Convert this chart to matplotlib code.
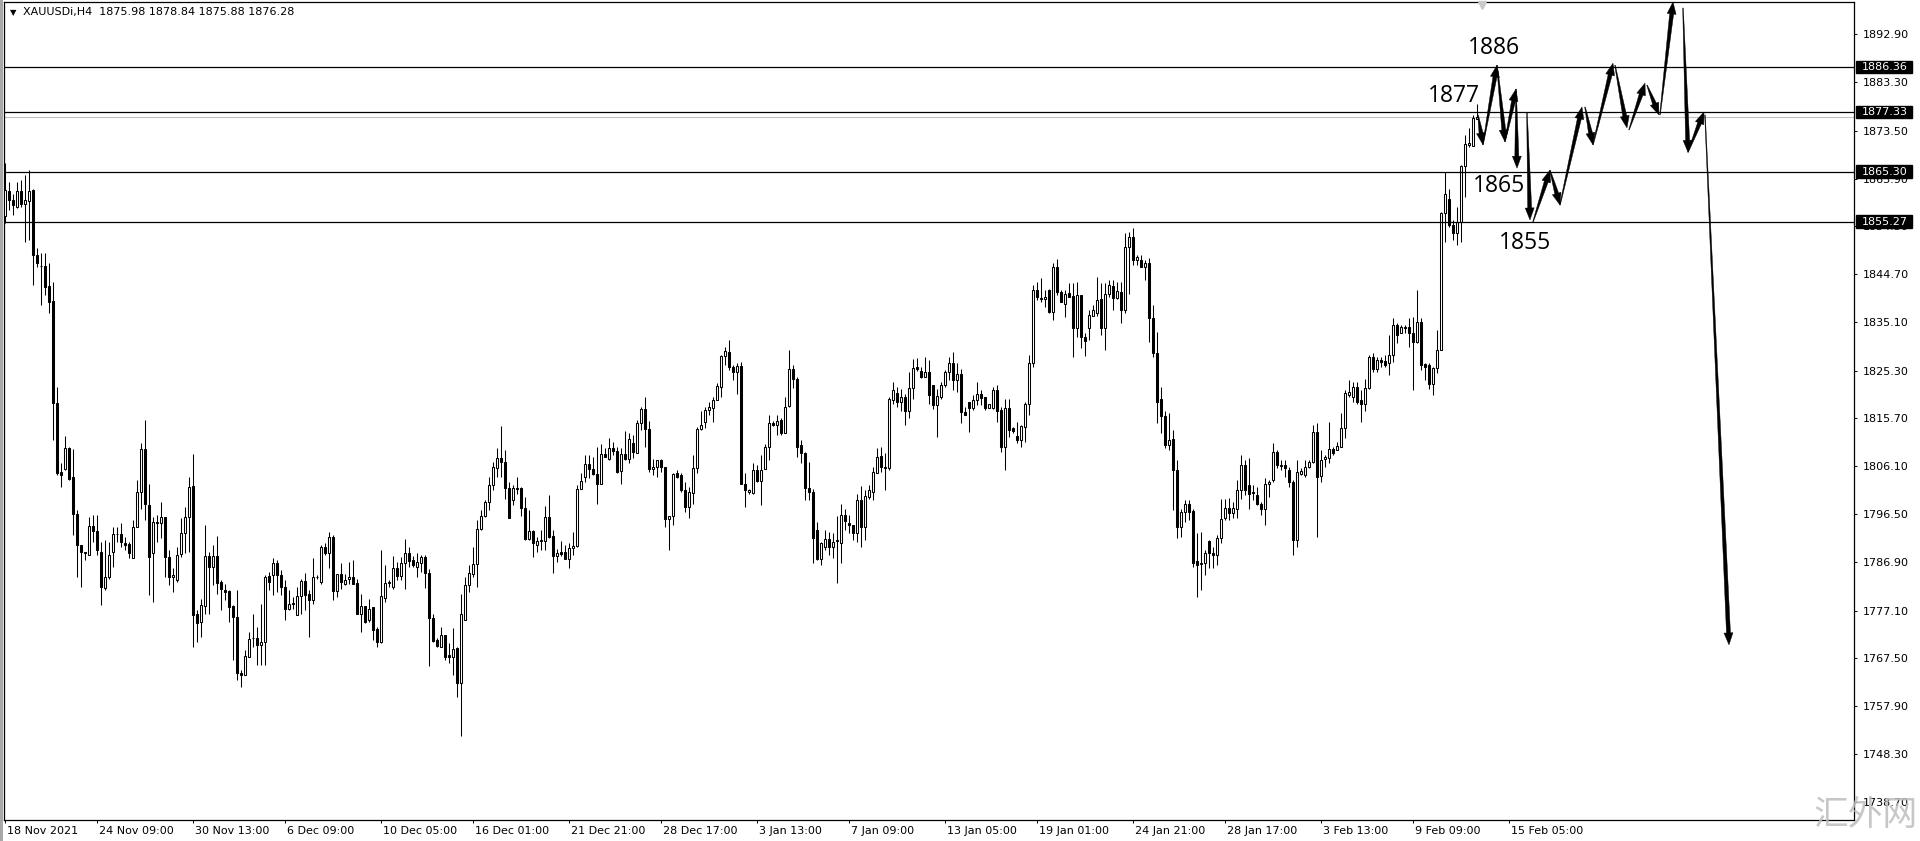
import numpy as np
import matplotlib
matplotlib.use("Agg")
import matplotlib.pyplot as plt
import matplotlib.transforms as mtransforms
from matplotlib.patches import Polygon, Rectangle

plt.rcParams['font.family'] = ['DejaVu Sans']

# H4 bars, XAUUSDi, 18 Nov 2021 .. 15 Feb 2022
opens = [
    1856.3, 1861.4, 1859.7, 1858.1, 1861.5, 1858.8, 1859.5, 1861.6, 1848.5, 1846.4,
    1846.3, 1842.3, 1839.3, 1818.9, 1805.0, 1805.6, 1809.8, 1803.9, 1796.5, 1790.3,
    1788.8, 1788.2, 1794.1, 1793.0, 1788.9, 1781.6, 1783.9, 1788.9, 1792.5, 1792.5,
    1790.7, 1790.5, 1787.6, 1793.9, 1801.0, 1809.6, 1798.3, 1788.6, 1794.9, 1794.6,
    1795.9, 1787.9, 1783.8, 1783.2, 1788.4, 1792.7, 1795.8, 1802.1, 1776.4, 1774.8,
    1778.0, 1788.0, 1785.9, 1788.0, 1782.9, 1781.2, 1781.1, 1778.0, 1775.8, 1764.6,
    1764.1, 1767.8, 1771.5, 1771.5, 1770.2, 1770.8, 1784.0, 1784.2, 1786.7, 1784.2,
    1781.9, 1777.5, 1778.6, 1776.2, 1780.0, 1783.1, 1780.5, 1779.2, 1783.8, 1782.9,
    1789.9, 1788.6, 1791.9, 1781.1, 1784.4, 1782.4, 1783.5, 1783.8, 1782.7, 1776.5,
    1778.0, 1775.2, 1777.9, 1773.3, 1770.8, 1779.7, 1782.6, 1781.9, 1785.6, 1784.0,
    1786.6, 1788.7, 1787.2, 1785.8, 1786.7, 1787.9, 1784.7, 1775.5, 1771.2, 1769.8,
    1772.2, 1768.1, 1767.8, 1769.5, 1762.5, 1775.2, 1782.2, 1784.5, 1786.4, 1793.4,
    1796.1, 1798.9, 1802.3, 1805.7, 1807.7, 1807.0, 1801.8, 1799.4, 1801.8, 1801.8,
    1797.8, 1791.4, 1793.1, 1790.3, 1791.1, 1791.1, 1795.8, 1792.1, 1788.0, 1788.9,
    1788.9, 1787.4, 1789.6, 1790.1, 1801.6, 1804.0, 1806.5, 1805.5, 1804.5, 1802.6,
    1808.5, 1807.5, 1809.7, 1809.2, 1805.2, 1808.5, 1807.5, 1810.7, 1808.8, 1814.7,
    1817.7, 1813.5, 1805.5, 1805.9, 1807.3, 1806.0, 1795.4, 1796.0, 1804.7, 1804.3,
    1801.4, 1798.0, 1800.8, 1805.7, 1813.5, 1815.0, 1817.4, 1817.9, 1819.4, 1822.1,
    1828.2, 1829.1, 1826.1, 1825.1, 1826.2, 1802.6, 1801.0, 1800.8, 1805.3, 1803.2,
    1805.5, 1809.9, 1814.8, 1814.3, 1815.4, 1812.8, 1818.2, 1825.6, 1823.6, 1810.4,
    1808.8, 1801.8, 1801.0, 1793.3, 1787.4, 1789.9, 1791.4, 1789.8, 1791.0, 1790.6,
    1796.3, 1794.6, 1794.3, 1792.7, 1799.4, 1793.8, 1800.0, 1801.0, 1804.8, 1808.1,
    1806.0, 1805.7, 1819.5, 1820.9, 1819.1, 1820.1, 1817.1, 1821.8, 1826.0, 1825.3,
    1824.1, 1825.1, 1822.4, 1818.4, 1820.1, 1822.4, 1825.1, 1826.8, 1823.4, 1824.6,
    1817.0, 1819.1, 1817.9, 1819.4, 1820.7, 1820.1, 1817.9, 1817.9, 1821.5, 1817.4,
    1809.9, 1817.9, 1813.7, 1812.2, 1811.4, 1813.9, 1818.6, 1826.9, 1841.6, 1840.0,
    1839.8, 1841.5, 1837.0, 1846.1, 1841.2, 1838.8, 1841.0, 1840.3, 1833.8, 1840.5,
    1832.1, 1833.8, 1836.3, 1836.8, 1839.8, 1833.8, 1840.8, 1842.3, 1840.0, 1841.2,
    1837.5, 1850.2, 1852.1, 1847.5, 1847.5, 1846.2, 1846.9, 1835.8, 1828.8, 1819.7,
    1816.2, 1810.4, 1811.5, 1805.3, 1793.9, 1796.9, 1798.6, 1797.1, 1787.0, 1786.4,
    1786.6, 1791.1, 1788.6, 1788.3, 1791.6, 1795.6, 1797.8, 1796.6, 1797.6, 1801.3,
    1806.3, 1802.3, 1801.0, 1800.3, 1798.6, 1797.6, 1802.6, 1803.3, 1809.0, 1806.1,
    1806.3, 1805.3, 1803.0, 1791.3, 1804.5, 1804.3, 1806.0, 1807.0, 1813.0, 1804.1,
    1807.6, 1807.7, 1809.5, 1809.4, 1810.0, 1813.7, 1820.4, 1820.1, 1822.0, 1819.4,
    1818.7, 1821.9, 1828.0, 1825.6, 1827.4, 1827.3, 1826.8, 1828.4, 1834.5, 1832.8,
    1834.0, 1834.0, 1832.8, 1831.1, 1835.1, 1826.6, 1826.4, 1822.7, 1825.8, 1829.5,
    1856.9, 1859.9, 1854.6, 1852.9, 1855.2, 1866.4, 1870.7, 1870.5, 1875.98,
]
highs = [
    1867.0, 1863.3, 1860.9, 1863.3, 1863.6, 1864.6, 1865.6, 1861.9, 1849.9, 1848.9,
    1848.9, 1846.9, 1843.2, 1822.0, 1806.7, 1812.2, 1810.0, 1809.5, 1797.3, 1790.3,
    1788.9, 1795.9, 1796.3, 1796.3, 1790.9, 1791.3, 1790.9, 1793.9, 1793.9, 1794.6,
    1791.9, 1790.9, 1795.3, 1803.3, 1810.7, 1815.4, 1802.6, 1795.9, 1796.3, 1798.9,
    1795.9, 1789.2, 1785.6, 1789.9, 1795.6, 1797.9, 1803.9, 1808.5, 1777.2, 1779.5,
    1794.3, 1788.9, 1790.3, 1792.1, 1783.2, 1782.5, 1781.2, 1778.2, 1781.2, 1765.1,
    1769.2, 1772.8, 1776.5, 1773.8, 1778.5, 1784.2, 1784.9, 1787.6, 1787.2, 1785.2,
    1783.2, 1781.2, 1779.9, 1781.9, 1783.5, 1784.6, 1781.2, 1787.6, 1784.2, 1790.3,
    1790.6, 1792.9, 1792.3, 1784.5, 1786.6, 1784.5, 1786.9, 1787.2, 1783.5, 1780.5,
    1778.0, 1779.5, 1777.9, 1773.8, 1789.2, 1786.2, 1783.2, 1788.0, 1786.9, 1787.9,
    1791.4, 1789.9, 1788.0, 1788.6, 1788.2, 1788.2, 1785.4, 1776.5, 1771.5, 1773.8,
    1772.2, 1770.5, 1773.5, 1769.8, 1780.5, 1783.9, 1786.2, 1789.9, 1795.3, 1797.3,
    1799.3, 1804.0, 1807.0, 1809.7, 1814.2, 1809.3, 1803.0, 1802.3, 1804.0, 1802.0,
    1800.0, 1797.4, 1793.2, 1791.9, 1793.3, 1798.1, 1800.3, 1793.3, 1789.4, 1791.1,
    1790.3, 1790.6, 1792.9, 1802.3, 1804.7, 1808.3, 1808.3, 1808.0, 1810.0, 1810.6,
    1809.7, 1811.7, 1811.0, 1810.0, 1809.7, 1813.2, 1812.7, 1812.4, 1815.4, 1818.1,
    1820.1, 1815.2, 1807.5, 1807.3, 1807.5, 1806.0, 1796.1, 1804.8, 1805.3, 1804.7,
    1803.0, 1802.0, 1808.4, 1814.0, 1817.1, 1818.1, 1819.1, 1820.1, 1822.8, 1828.4,
    1830.1, 1831.5, 1826.4, 1826.8, 1827.1, 1804.7, 1801.6, 1806.8, 1806.3, 1808.3,
    1810.6, 1816.4, 1815.2, 1816.4, 1815.7, 1820.1, 1829.5, 1826.4, 1824.1, 1811.4,
    1809.0, 1807.0, 1801.6, 1794.9, 1790.9, 1793.3, 1792.9, 1792.6, 1796.0, 1798.5,
    1797.6, 1796.3, 1794.3, 1800.6, 1802.1, 1801.3, 1802.3, 1806.0, 1809.7, 1810.0,
    1808.7, 1820.1, 1823.1, 1822.1, 1821.7, 1820.7, 1825.1, 1827.6, 1827.8, 1826.1,
    1828.1, 1827.4, 1822.4, 1821.7, 1823.1, 1825.4, 1828.0, 1829.1, 1826.8, 1825.7,
    1818.1, 1819.1, 1820.4, 1823.1, 1821.4, 1820.1, 1818.6, 1822.1, 1822.4, 1818.1,
    1819.7, 1819.7, 1814.0, 1815.0, 1814.4, 1819.1, 1828.4, 1842.5, 1843.2, 1843.9,
    1841.5, 1841.8, 1846.9, 1847.7, 1841.5, 1841.5, 1842.9, 1842.9, 1843.2, 1840.5,
    1832.8, 1837.5, 1838.5, 1844.2, 1842.9, 1842.9, 1843.5, 1843.5, 1843.2, 1843.2,
    1852.9, 1853.2, 1853.9, 1848.5, 1848.5, 1847.5, 1847.9, 1838.5, 1833.1, 1822.1,
    1817.1, 1816.7, 1813.4, 1807.3, 1797.6, 1799.3, 1799.3, 1797.6, 1792.6, 1792.9,
    1789.3, 1791.3, 1789.9, 1792.3, 1799.6, 1799.6, 1799.8, 1798.9, 1803.3, 1808.3,
    1807.3, 1807.7, 1802.3, 1802.0, 1798.9, 1803.7, 1803.3, 1810.7, 1809.3, 1807.3,
    1807.3, 1806.0, 1803.3, 1807.3, 1805.7, 1807.3, 1807.3, 1814.4, 1814.7, 1809.3,
    1808.3, 1815.0, 1810.0, 1811.0, 1816.7, 1821.4, 1823.4, 1823.1, 1823.1, 1821.4,
    1823.7, 1828.4, 1828.8, 1828.1, 1828.1, 1828.4, 1832.5, 1835.8, 1834.8, 1834.5,
    1834.5, 1835.8, 1836.1, 1841.5, 1835.8, 1826.8, 1826.8, 1826.1, 1833.5, 1857.2,
    1865.3, 1861.9, 1855.6, 1858.3, 1866.6, 1872.7, 1874.0, 1876.7, 1878.84,
]
lows = [
    1854.9, 1857.6, 1856.6, 1857.9, 1858.3, 1851.2, 1851.6, 1842.5, 1846.2, 1838.5,
    1840.5, 1836.8, 1811.4, 1804.3, 1802.0, 1805.3, 1803.3, 1792.3, 1783.9, 1781.9,
    1787.2, 1788.2, 1790.9, 1788.2, 1778.2, 1781.2, 1783.5, 1785.9, 1790.9, 1789.9,
    1789.3, 1787.6, 1787.6, 1793.9, 1797.6, 1795.3, 1780.2, 1778.9, 1790.9, 1791.6,
    1783.9, 1782.2, 1780.9, 1782.9, 1787.9, 1788.6, 1788.9, 1769.8, 1770.8, 1771.8,
    1776.5, 1776.5, 1782.2, 1780.5, 1777.2, 1779.2, 1774.8, 1767.1, 1763.1, 1761.8,
    1764.1, 1767.8, 1769.8, 1766.1, 1766.1, 1766.1, 1781.2, 1780.2, 1780.9, 1780.2,
    1775.2, 1777.2, 1777.5, 1776.2, 1776.5, 1777.2, 1771.8, 1778.5, 1783.5, 1782.5,
    1788.2, 1785.6, 1779.2, 1779.9, 1781.5, 1782.2, 1782.5, 1782.5, 1776.5, 1772.8,
    1774.5, 1774.8, 1771.2, 1769.8, 1770.5, 1778.9, 1781.9, 1781.5, 1783.2, 1783.2,
    1781.5, 1785.9, 1785.9, 1783.8, 1784.9, 1781.7, 1765.9, 1770.8, 1769.8, 1769.8,
    1767.1, 1766.5, 1764.1, 1759.8, 1751.9, 1775.2, 1780.9, 1783.9, 1781.9, 1793.3,
    1795.9, 1797.3, 1801.3, 1804.0, 1804.0, 1799.6, 1795.6, 1798.3, 1800.6, 1796.0,
    1791.3, 1791.3, 1787.9, 1788.9, 1789.3, 1789.3, 1791.6, 1784.6, 1786.9, 1788.0,
    1787.4, 1785.6, 1788.2, 1789.9, 1801.6, 1803.0, 1803.7, 1804.3, 1798.6, 1802.6,
    1807.9, 1807.3, 1808.3, 1804.8, 1802.6, 1807.3, 1806.7, 1807.7, 1808.7, 1813.4,
    1810.0, 1805.0, 1804.3, 1804.0, 1805.0, 1793.9, 1789.3, 1794.3, 1803.7, 1801.0,
    1797.0, 1795.6, 1798.6, 1804.7, 1813.4, 1813.7, 1816.4, 1815.0, 1819.4, 1820.1,
    1826.4, 1825.4, 1823.4, 1820.7, 1802.6, 1798.0, 1800.6, 1800.6, 1803.0, 1798.3,
    1805.5, 1807.3, 1814.2, 1812.4, 1812.4, 1812.7, 1818.1, 1821.8, 1808.0, 1806.7,
    1799.3, 1799.3, 1786.6, 1787.2, 1786.2, 1789.3, 1788.2, 1787.6, 1782.6, 1786.6,
    1793.3, 1792.6, 1791.3, 1790.9, 1789.9, 1791.3, 1799.6, 1799.3, 1804.7, 1805.0,
    1801.3, 1805.3, 1818.7, 1818.1, 1817.1, 1814.4, 1815.7, 1819.7, 1825.3, 1823.8,
    1824.1, 1818.7, 1817.7, 1812.0, 1819.7, 1822.1, 1823.4, 1821.4, 1821.1, 1814.7,
    1816.4, 1813.0, 1817.5, 1818.4, 1818.4, 1817.4, 1817.9, 1817.7, 1815.0, 1809.0,
    1805.3, 1812.0, 1812.7, 1810.7, 1810.0, 1811.0, 1816.4, 1826.1, 1839.5, 1839.2,
    1838.2, 1836.8, 1835.5, 1840.5, 1839.2, 1836.1, 1840.2, 1828.1, 1832.1, 1829.8,
    1828.2, 1831.5, 1836.2, 1836.2, 1832.5, 1829.5, 1840.2, 1837.5, 1839.8, 1834.8,
    1836.8, 1840.8, 1846.5, 1846.5, 1846.2, 1843.5, 1831.1, 1828.1, 1814.7, 1812.7,
    1809.7, 1809.4, 1797.3, 1791.6, 1791.9, 1794.9, 1795.3, 1785.9, 1779.9, 1781.2,
    1784.2, 1785.6, 1785.6, 1786.2, 1790.6, 1795.3, 1795.3, 1795.6, 1795.6, 1799.6,
    1800.3, 1797.6, 1799.3, 1798.3, 1796.3, 1794.3, 1800.0, 1803.0, 1805.7, 1805.3,
    1804.0, 1802.0, 1788.2, 1789.9, 1804.3, 1804.0, 1805.7, 1806.7, 1791.9, 1803.0,
    1806.0, 1806.7, 1808.3, 1809.3, 1810.0, 1811.7, 1820.1, 1819.1, 1818.7, 1815.0,
    1817.1, 1821.7, 1825.1, 1825.1, 1826.1, 1826.1, 1824.4, 1827.1, 1830.8, 1832.8,
    1832.8, 1830.1, 1821.4, 1830.8, 1825.4, 1823.4, 1821.7, 1820.4, 1824.8, 1829.5,
    1851.2, 1854.2, 1851.6, 1850.6, 1851.2, 1860.3, 1870.3, 1870.4, 1875.88,
]
closes = [
    1861.6, 1859.7, 1858.6, 1861.5, 1858.9, 1859.6, 1861.5, 1848.5, 1846.9, 1846.3,
    1842.2, 1839.2, 1818.9, 1804.8, 1804.3, 1809.7, 1803.6, 1796.5, 1790.3, 1788.9,
    1788.7, 1794.1, 1793.0, 1789.3, 1781.9, 1783.9, 1788.2, 1792.5, 1792.4, 1790.9,
    1790.3, 1788.6, 1793.9, 1801.0, 1809.6, 1798.5, 1787.9, 1794.9, 1794.6, 1795.9,
    1787.9, 1783.9, 1784.2, 1788.2, 1792.7, 1795.8, 1801.9, 1776.2, 1774.5, 1778.2,
    1788.0, 1785.9, 1788.0, 1782.7, 1781.5, 1780.9, 1777.9, 1775.8, 1764.5, 1764.1,
    1767.9, 1771.3, 1771.6, 1770.2, 1770.8, 1783.9, 1782.9, 1786.7, 1784.2, 1781.9,
    1777.5, 1778.5, 1778.4, 1780.0, 1783.1, 1780.2, 1779.2, 1783.9, 1783.9, 1789.9,
    1788.6, 1791.9, 1781.1, 1784.4, 1782.9, 1783.2, 1783.8, 1782.5, 1776.5, 1778.0,
    1774.8, 1777.5, 1773.2, 1770.8, 1780.0, 1782.7, 1782.9, 1785.6, 1784.0, 1786.7,
    1788.6, 1787.1, 1786.2, 1786.9, 1787.9, 1784.6, 1775.5, 1771.0, 1769.9, 1772.2,
    1767.8, 1767.8, 1769.3, 1762.5, 1776.5, 1782.2, 1784.7, 1786.4, 1793.4, 1796.0,
    1798.9, 1802.3, 1806.0, 1807.7, 1807.0, 1801.8, 1795.6, 1801.8, 1801.6, 1797.8,
    1791.4, 1793.1, 1790.6, 1791.1, 1791.3, 1795.8, 1791.9, 1788.0, 1788.6, 1788.4,
    1787.4, 1789.6, 1790.1, 1801.6, 1803.2, 1806.5, 1805.5, 1804.5, 1802.6, 1808.5,
    1808.0, 1809.7, 1809.2, 1805.0, 1808.5, 1807.5, 1811.5, 1809.0, 1814.7, 1817.7,
    1813.5, 1805.5, 1805.9, 1807.3, 1805.9, 1795.4, 1796.0, 1804.5, 1804.0, 1801.3,
    1798.0, 1801.0, 1805.7, 1813.5, 1814.4, 1817.5, 1818.0, 1819.4, 1822.2, 1828.2,
    1829.3, 1826.1, 1825.1, 1826.2, 1802.6, 1801.4, 1801.4, 1805.3, 1803.2, 1805.3,
    1809.9, 1814.8, 1814.3, 1815.2, 1812.7, 1818.1, 1825.6, 1823.6, 1810.0, 1808.8,
    1801.8, 1801.0, 1791.6, 1787.4, 1790.7, 1791.4, 1789.8, 1790.9, 1791.2, 1796.3,
    1795.1, 1794.3, 1792.7, 1799.4, 1793.9, 1800.1, 1801.4, 1805.0, 1808.0, 1805.9,
    1805.7, 1819.7, 1821.4, 1819.1, 1820.1, 1817.1, 1821.8, 1825.8, 1825.6, 1824.1,
    1825.1, 1820.4, 1818.4, 1820.2, 1822.4, 1825.1, 1826.8, 1823.4, 1824.6, 1816.9,
    1816.4, 1817.9, 1819.4, 1820.6, 1819.9, 1817.9, 1818.6, 1821.5, 1817.3, 1809.9,
    1817.9, 1813.4, 1813.2, 1811.4, 1814.2, 1818.6, 1826.9, 1841.6, 1840.2, 1839.8,
    1840.2, 1837.0, 1846.1, 1841.2, 1839.2, 1840.8, 1840.2, 1833.8, 1840.5, 1832.1,
    1831.3, 1836.5, 1837.5, 1839.6, 1833.8, 1840.8, 1842.5, 1840.0, 1841.4, 1837.5,
    1850.2, 1852.1, 1847.5, 1848.2, 1846.2, 1846.9, 1835.8, 1828.8, 1819.1, 1816.2,
    1810.4, 1811.4, 1805.3, 1793.9, 1796.9, 1798.6, 1796.9, 1786.6, 1786.2, 1786.6,
    1788.6, 1788.6, 1788.3, 1791.6, 1795.4, 1797.8, 1796.6, 1797.8, 1801.4, 1806.3,
    1801.3, 1800.6, 1800.7, 1798.6, 1797.6, 1802.6, 1803.0, 1809.0, 1806.3, 1806.3,
    1805.7, 1803.0, 1791.3, 1805.0, 1805.2, 1806.0, 1807.0, 1813.0, 1804.0, 1807.3,
    1807.9, 1809.5, 1808.7, 1810.2, 1813.7, 1820.9, 1821.1, 1822.1, 1819.1, 1818.7,
    1821.9, 1828.0, 1825.6, 1827.4, 1827.1, 1826.4, 1828.4, 1834.5, 1832.5, 1834.0,
    1833.8, 1832.8, 1831.1, 1835.1, 1826.4, 1826.1, 1822.7, 1825.8, 1829.5, 1856.9,
    1860.9, 1854.6, 1852.9, 1855.2, 1866.4, 1870.9, 1871.0, 1876.0, 1876.28,
]

time_ticks = [0, 23, 47, 70, 94, 117, 141, 164, 188, 211, 235, 258, 282, 305, 329, 352, 376]
time_labels = ["18 Nov 2021", "24 Nov 09:00", "30 Nov 13:00", "6 Dec 09:00", "10 Dec 05:00",
               "16 Dec 01:00", "21 Dec 21:00", "28 Dec 17:00", "3 Jan 13:00", "7 Jan 09:00",
               "13 Jan 05:00", "19 Jan 01:00", "24 Jan 21:00", "28 Jan 17:00", "3 Feb 13:00",
               "9 Feb 09:00", "15 Feb 05:00"]
price_ticks = [1892.90, 1883.30, 1873.50, 1863.90, 1854.30, 1844.70, 1835.10, 1825.30, 1815.70,
               1806.10, 1796.50, 1786.90, 1777.10, 1767.50, 1757.90, 1748.30, 1738.70]

levels = [1886.36, 1877.33, 1865.30, 1855.27]
bid = 1876.28

# hand drawn notes: (text, bar, price)
notes = [("1877", 362.25, 1880.5), ("1886", 372.25, 1890.2),
         ("1865", 373.5, 1862.4), ("1855", 380.0, 1851.0)]

# hand drawn scenario arrows: (bar0, price0, bar1, price1)
arrows = [
    (368.25, 1876.7, 369.5, 1870.7), (369.5, 1870.7, 373.0, 1886.7),
    (373.0, 1886.7, 375.0, 1871.3), (375.0, 1871.3, 377.75, 1881.9),
    (377.75, 1881.9, 378.0, 1866.0), (380.5, 1877.1, 381.25, 1855.6),
    (382.0, 1855.2, 386.25, 1865.6), (386.25, 1865.6, 388.75, 1858.6),
    (388.75, 1858.6, 394.25, 1878.3), (395.0, 1878.3, 397.0, 1870.7),
    (397.0, 1870.7, 402.0, 1887.1), (402.5, 1886.7, 405.5, 1874.1),
    (406.0, 1873.7, 410.0, 1883.1), (410.5, 1882.7, 413.5, 1876.7),
    (413.75, 1876.7, 417.0, 1899.4), (419.5, 1898.2, 420.75, 1869.2),
    (420.75, 1869.2, 424.75, 1877.3), (425.0, 1876.7, 431.0, 1770.2),
]

W, H = 1920, 841
fig = plt.figure(figsize=(W / 100, H / 100), dpi=100, facecolor="white")
ax = fig.add_axes([4 / W, 21 / H, 1850 / W, 818 / H])
ax.set_xlim(-0.25, 462.25)
ax.set_ylim(1735.0, 1899.4)

o = np.array(opens)
c = np.array(closes)
hi = np.maximum(np.array(highs), np.maximum(o, c))
lo = np.minimum(np.array(lows), np.minimum(o, c))
x = np.arange(len(o))
up = c >= o

ax.vlines(x, lo, hi, color="black", lw=0.75, zorder=2)
ax.bar(x[up], (c - o)[up], bottom=o[up], width=0.5, facecolor="white",
       edgecolor="black", lw=0.75, zorder=3)
ax.bar(x[~up], (o - c)[~up], bottom=c[~up], width=0.5, facecolor="black",
       edgecolor="black", lw=0.75, zorder=3)

for lv in levels:
    ax.axhline(lv, color="black", lw=0.9, zorder=4)
ax.axhline(bid, color="#c0c0c0", lw=0.8, zorder=1)

# axes look
for s in ax.spines.values():
    s.set_color("black")
    s.set_linewidth(0.9)
ax.yaxis.tick_right()
ax.set_yticks(price_ticks)
ax.set_yticklabels(["%.2f" % p for p in price_ticks])
ax.set_xticks(time_ticks)
ax.set_xticklabels(time_labels)
ax.tick_params(axis="y", direction="out", length=2.5, width=0.7, pad=3.5,
               labelsize=8, colors="black")
ax.tick_params(axis="x", direction="out", length=2.5, width=0.7, pad=2,
               labelsize=8, colors="black")
shift = mtransforms.ScaledTranslation(2 / 100, 0, fig.dpi_scale_trans)
for lab in ax.get_xticklabels():
    lab.set_horizontalalignment("left")
    lab.set_transform(lab.get_transform() + shift)

# price boxes on the right scale
blend = mtransforms.blended_transform_factory(ax.transAxes, ax.transData)
for lv in levels:
    ax.add_patch(Rectangle((1.0011, lv - 1.25), 0.0303, 2.5, transform=blend,
                           facecolor="black", edgecolor="black", clip_on=False, zorder=10))
    ax.text(1.0042, lv, "%.2f" % lv, transform=blend, color="white", fontsize=8,
            va="center", ha="left", clip_on=False, zorder=11)

# header
fig.text(13 / W, 1 - 12.5 / H, "\u25bc", fontsize=6, ha="center", va="center")
fig.text(23 / W, 1 - 12.5 / H, "XAUUSDi,H4  1875.98 1878.84 1875.88 1876.28",
         fontsize=8, ha="left", va="center")

# window border on the left
fig.patches.append(Rectangle((0, 0), 2.5 / W, 1, transform=fig.transFigure,
                             facecolor="#a8a8a8", edgecolor="none"))

# chart shift marker
ax.plot([369.25], [1898.7], marker="v", ms=6, color="#c8c8c8", clip_on=False, zorder=5)

for txt, bx, py in notes:
    ax.text(bx, py, txt, fontsize=16.5, family=["Open Sans", "DejaVu Sans"],
            ha="center", va="center", color="black", zorder=8)


def tapered_arrow(x0, y0, x1, y1, w0=0.6, w1=4.0, head_len=12.0, head_w=9.0):
    a = ax.transData.transform((x0, y0))
    b = ax.transData.transform((x1, y1))
    d = b - a
    u = d / np.hypot(*d)
    n = np.array([-u[1], u[0]])
    s = b - u * head_len
    pts = [a + n * w0 / 2, s + n * w1 / 2, s + n * head_w / 2, b,
           s - n * head_w / 2, s - n * w1 / 2, a - n * w0 / 2]
    ax.add_patch(Polygon(pts, closed=True, transform=mtransforms.IdentityTransform(),
                         facecolor="black", edgecolor="black", lw=0.3,
                         clip_on=False, zorder=7))


for ar in arrows:
    tapered_arrow(*ar)

# watermark
fig.text(1866 / W, 1 - 815 / H, "汇外网", fontsize=25, color="#bdbdbd", alpha=0.85,
         family=["Noto Sans CJK SC", "DejaVu Sans"], weight="light",
         ha="center", va="center", zorder=20)

fig.savefig("out.png", dpi=100, facecolor="white")
